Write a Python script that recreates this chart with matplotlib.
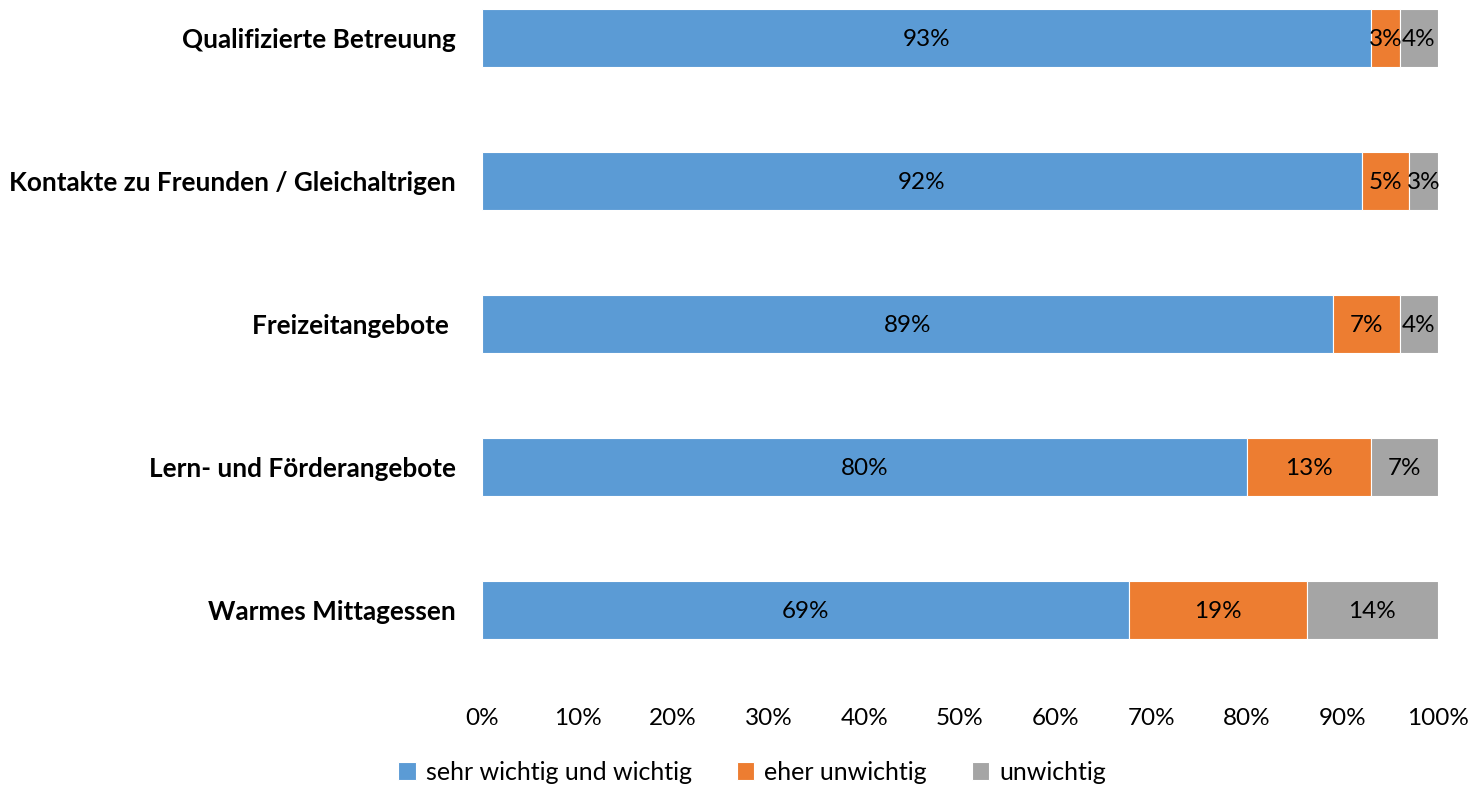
import numpy as np
import matplotlib.pyplot as plt

plt.rcParams['font.family'] = ['Lato', 'DejaVu Sans']

categories = ['Qualifizierte Betreuung', 'Kontakte zu Freunden / Gleichaltrigen',
              'Freizeitangebote ', 'Lern- und Förderangebote', 'Warmes Mittagessen']
sehr_wichtig = [93, 92, 89, 80, 69]
eher_unwichtig = [3, 5, 7, 13, 19]
unwichtig = [4, 3, 4, 7, 14]
series_names = ['sehr wichtig und wichtig', 'eher unwichtig', 'unwichtig']
colors = ['#5B9BD5', '#ED7D31', '#A5A5A5']

vals = np.array([sehr_wichtig, eher_unwichtig, unwichtig], dtype=float)
shares = vals / vals.sum(axis=0)

fig = plt.figure(figsize=(14.7, 7.86), dpi=100)
ax = fig.add_axes([482/1470, 86/786, 956/1470, 700/786])

y = np.arange(len(categories))
left = np.zeros(len(categories))
for k in range(3):
    ax.barh(y, shares[k], left=left, height=0.4, color=colors[k],
            edgecolor='white', linewidth=0.8, label=series_names[k])
    for i in range(len(categories)):
        ax.text(left[i] + shares[k][i] / 2, y[i] + 0.01, f'{int(vals[k][i])}%',
                ha='center', va='center', fontsize=17.5, color='black')
    left += shares[k]

ax.set_xlim(0, 1)
ax.set_ylim(4 + 0.629, -0.266)
ax.set_xticks(np.arange(0, 1.01, 0.1))
ax.set_xticklabels([f'{v}%' for v in range(0, 101, 10)], fontsize=17.5)
ax.set_yticks(y)
ax.set_yticklabels(categories, fontsize=18.8, fontweight='bold')
ax.tick_params(axis='both', length=0)
ax.tick_params(axis='y', pad=19)
ax.tick_params(axis='x', pad=6)
for s in ax.spines.values():
    s.set_visible(False)

fig.legend(loc='center', bbox_to_anchor=(752/1470, 1 - 772/786), ncol=3,
           frameon=False, fontsize=18, handlelength=0.7, handleheight=0.7,
           columnspacing=1.8, handletextpad=0.4)

fig.savefig('out.png', dpi=100)
